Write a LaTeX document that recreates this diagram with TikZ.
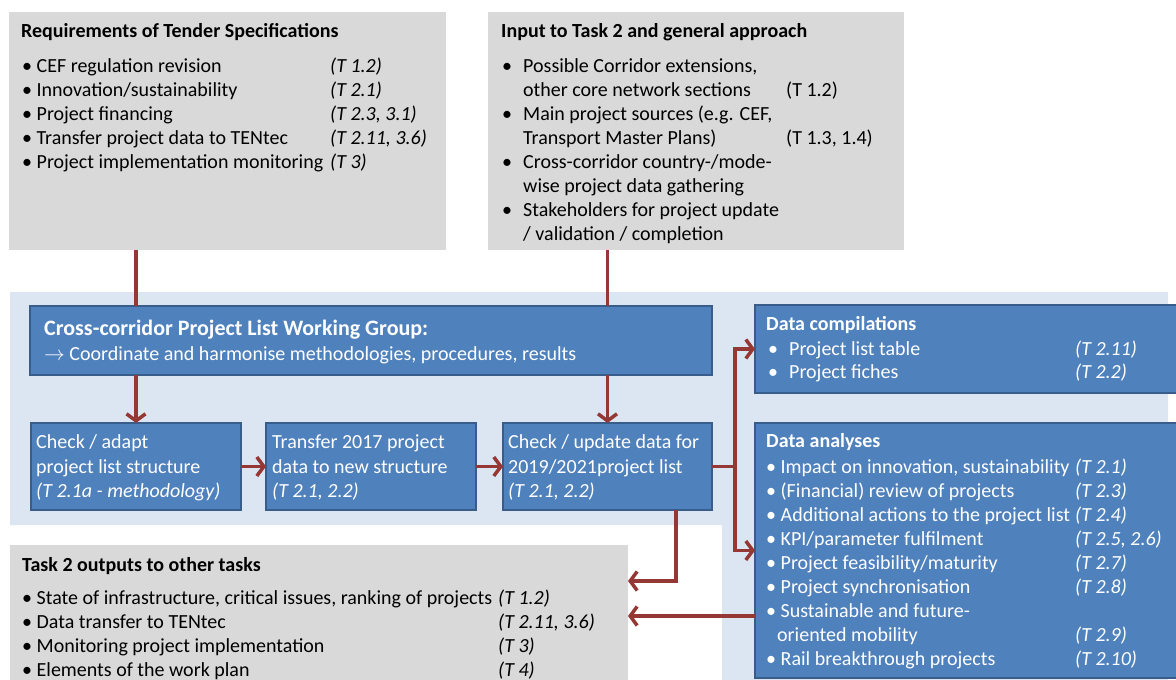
\documentclass[tikz,border=0pt]{standalone}
\usepackage{fontspec}
\setmainfont{Carlito}
\usetikzlibrary{arrows.meta}
\definecolor{boxgray}{HTML}{D9D9D9}
\definecolor{paleblue}{HTML}{DCE6F2}
\definecolor{boxblue}{HTML}{4F81BD}
\definecolor{edgeblue}{HTML}{385D8A}
\definecolor{arrowred}{HTML}{953735}
\tikzset{
  graybox/.style={fill=boxgray, anchor=north west, inner sep=0, outer sep=0},
  bluebox/.style={fill=boxblue, draw=edgeblue, line width=2pt, anchor=north west, inner sep=0, outer sep=0},
  txt/.style={anchor=base west, inner sep=0, font=\fontsize{20}{24}\selectfont},
  ref/.style={txt, font=\fontsize{20}{24}\selectfont\itshape},
  head/.style={txt, font=\fontsize{20}{24}\selectfont\bfseries},
  wtxt/.style={txt, text=white},
  wref/.style={ref, text=white},
  whead/.style={head, text=white},
  link/.style={draw=arrowred, line width=3.5pt},
  arr/.style={link, -{Straight Barb[length=7pt,width=19pt]}}
}
\begin{document}
\begin{tikzpicture}[x=1pt,y=-1pt]
\useasboundingbox (0,0) rectangle (1176,680);
\clip (0,0) rectangle (1176,680);
\fill[paleblue] (10,292) -- (1168,292) -- (1168,680) -- (722,680) -- (722,525) -- (10,525) -- cycle;
\node[graybox, minimum width=437, minimum height=238] (req) at (9,12) {};
\node[graybox, minimum width=416, minimum height=238] (inp) at (488,12) {};
\node[graybox, minimum width=618, minimum height=160] (out) at (10,545) {};
\node[bluebox, minimum width=682, minimum height=69] (wg) at (30,306) {};
\node[bluebox, minimum width=210, minimum height=87] (adapt) at (31,423) {};
\node[bluebox, minimum width=210, minimum height=87] (transfer) at (266,423) {};
\node[bluebox, minimum width=209, minimum height=87] (update) at (503,423) {};
\node[bluebox, minimum width=440, minimum height=88] (comp) at (755,305) {};
\node[bluebox, minimum width=440, minimum height=255] (ana) at (755,423) {};

\node[head] (req0) at (21,37) {Requirements of Tender Specifications};
\node[txt] (req1) at (22,72) {• CEF regulation revision}; \node[ref] (req1r) at (330,72) {(T 1.2)};
\node[txt] (req2) at (22,96) {• Innovation/sustainability}; \node[ref] (req2r) at (330,96) {(T 2.1)};
\node[txt] (req3) at (22,120) {• Project financing}; \node[ref] (req3r) at (330,120) {(T 2.3, 3.1)};
\node[txt] (req4) at (22,144) {• Transfer project data to TENtec}; \node[ref] (req4r) at (330,144) {(T 2.11, 3.6)};
\node[txt] (req5) at (22,168) {• Project implementation monitoring}; \node[ref] (req5r) at (330,168) {(T 3)};

\node[head] (inp0) at (501,37) {Input to Task 2 and general approach};
\node[txt] (inp1b) at (502,72) {•}; \node[txt] (inp1) at (523,72) {Possible Corridor extensions,};
\node[txt] (inp2) at (523,96) {other core network sections}; \node[txt] (inp2r) at (786,96) {(T 1.2)};
\node[txt] (inp3b) at (502,120) {•}; \node[txt] (inp3) at (523,120) {Main project sources (e.g. CEF,};
\node[txt] (inp4) at (523,144) {Transport Master Plans)}; \node[txt] (inp4r) at (786,144) {(T 1.3, 1.4)};
\node[txt] (inp5b) at (502,168) {•}; \node[txt] (inp5) at (523,168) {Cross-corridor country-/mode-};
\node[txt] (inp6) at (523,192) {wise project data gathering};
\node[txt] (inp7b) at (502,216) {•}; \node[txt] (inp7) at (523,216) {Stakeholders for project update};
\node[txt] (inp8) at (523,240) {/ validation / completion};

\node[whead, font=\fontsize{22}{24}\selectfont\bfseries] (wg0) at (44,335) {Cross-corridor Project List Working Group:};
\node[wtxt] (wg1) at (44,360) {$\rightarrow$ Coordinate and harmonise methodologies, procedures, results};

\node[wtxt] (adapt1) at (36,448) {Check / adapt};
\node[wtxt] (adapt2) at (36,473) {project list structure};
\node[wref] (adapt3) at (36,497) {(T 2.1a - methodology)};
\node[wtxt] (transfer1) at (272,448) {Transfer 2017 project};
\node[wtxt] (transfer2) at (272,473) {data to new structure};
\node[wref] (transfer3) at (272,497) {(T 2.1, 2.2)};
\node[wtxt] (update1) at (508,448) {Check / update data for};
\node[wtxt] (update2) at (508,473) {2019/2021project list};
\node[wref] (update3) at (508,497) {(T 2.1, 2.2)};

\node[whead] (comp0) at (766,330) {Data compilations};
\node[wtxt] (comp1b) at (768,355) {•}; \node[wtxt] (comp1) at (789,355) {Project list table}; \node[wref] (comp1r) at (1075,355) {(T 2.11)};
\node[wtxt] (comp2b) at (768,378) {•}; \node[wtxt] (comp2) at (789,378) {Project fiches}; \node[wref] (comp2r) at (1075,378) {(T 2.2)};

\node[whead] (ana0) at (766,447) {Data analyses};
\node[wtxt] (ana1) at (766,473) {• Impact on innovation, sustainability}; \node[wref] (ana1r) at (1075,473) {(T 2.1)};
\node[wtxt] (ana2) at (766,497) {• (Financial) review of projects}; \node[wref] (ana2r) at (1075,497) {(T 2.3)};
\node[wtxt] (ana3) at (766,521) {• Additional actions to the project list}; \node[wref] (ana3r) at (1075,521) {(T 2.4)};
\node[wtxt] (ana4) at (766,545) {• KPI/parameter fulfilment}; \node[wref] (ana4r) at (1075,545) {(T 2.5, 2.6)};
\node[wtxt] (ana5) at (766,569) {• Project feasibility/maturity}; \node[wref] (ana5r) at (1075,569) {(T 2.7)};
\node[wtxt] (ana6) at (766,593) {• Project synchronisation}; \node[wref] (ana6r) at (1075,593) {(T 2.8)};
\node[wtxt] (ana7) at (766,617) {• Sustainable and future-};
\node[wtxt] (ana8) at (777,641) {oriented mobility}; \node[wref] (ana8r) at (1075,641) {(T 2.9)};
\node[wtxt] (ana9) at (766,665) {• Rail breakthrough projects}; \node[wref] (ana9r) at (1075,665) {(T 2.10)};

\node[head] (out0) at (22,571) {Task 2 outputs to other tasks};
\node[txt] (out1) at (22,604) {• State of infrastructure, critical issues, ranking of projects}; \node[ref] (out1r) at (498,604) {(T 1.2)};
\node[txt] (out2) at (22,628) {• Data transfer to TENtec}; \node[ref] (out2r) at (498,628) {(T 2.11, 3.6)};
\node[txt] (out3) at (22,652) {• Monitoring project implementation}; \node[ref] (out3r) at (498,652) {(T 3)};
\node[txt] (out4) at (22,676) {• Elements of the work plan}; \node[ref] (out4r) at (498,676) {(T 4)};

\coordinate (split) at (735,466.5); \coordinate (drop) at (676,510);
\coordinate (outa) at (628,581); \coordinate (outb) at (628,616); \coordinate (back) at (755,616);
\draw[link] (req.south -| adapt.north) -- (wg.north -| adapt.north);
\draw[link] (inp.south -| update.north) -- (wg.north -| update.north);
\draw[arr] (wg.south -| adapt.north) -- (adapt.north);
\draw[arr] (wg.south -| update.north) -- (update.north);
\draw[arr] (adapt) -- (transfer);
\draw[arr] (transfer) -- (update);
\draw[arr] (update.east) -- (split) |- (comp.west);
\draw[arr] (split) |- (ana.west);
\draw[arr] (drop) |- (outa);
\draw[arr] (back) -- (outb);
\end{tikzpicture}
\end{document}
